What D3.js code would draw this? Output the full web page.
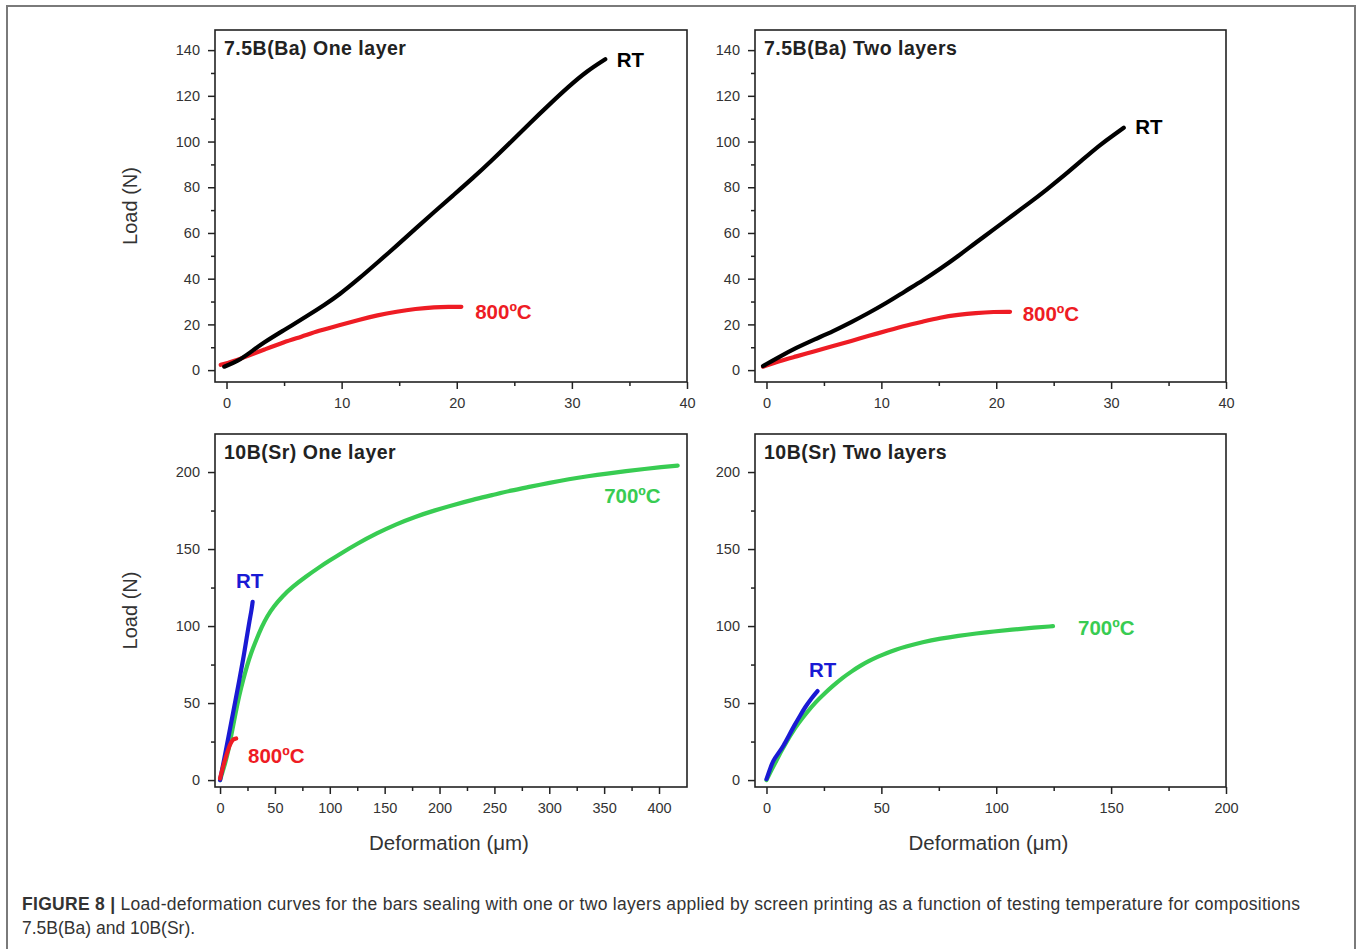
<!DOCTYPE html>
<html>
<head>
<meta charset="utf-8">
<script src="https://cdn.jsdelivr.net/npm/d3@7/dist/d3.min.js"></script>
<style>
  html, body { margin: 0; padding: 0; background: #fff; }
  svg { display: block; }
</style>
</head>
<body>
<svg id="chart" width="1357" height="949"></svg>
<script>
// ---------- DATA ----------
// Panel titles
const panelTitles = ["7.5B(Ba) One layer", "7.5B(Ba) Two layers", "10B(Sr) One layer", "10B(Sr) Two layers"];

// Top-left: 7.5B(Ba) one layer  [deformation µm, load N]
const baOneRT = [[-0.2,1.5],[1,4],[2,7.5],[3.2,12],[5,17.5],[7.1,24],[8.5,28.5],[9.8,33],[11.5,40],[13.1,47],[14.8,54.5],[16.4,61.8],[18,69],[19.7,76.5],[21.4,84],[23.1,92],[24.8,100.3],[26.4,108.3],[28,116],[29.7,124],[31.3,130.8],[32.9,136]];
const baOne800 = [[-0.5,2.3],[1,4.5],[2,6.5],[3.2,8.8],[5,12.3],[6.5,14.6],[8,17.2],[9.8,19.7],[11.5,22],[13.1,24],[14.8,25.6],[16.4,26.8],[18.1,27.6],[19.3,27.7],[20.4,27.7]];

// Top-right: 7.5B(Ba) two layers
const baTwoRT = [[-0.3,1.8],[1,5.5],[2.6,9.8],[4.2,13.5],[5.8,17],[7.4,21],[8.9,25],[10.5,29.5],[12,34.3],[13.6,39.2],[15.1,44.2],[16.7,49.9],[18.2,55.7],[19.8,61.6],[21.3,67.3],[22.9,73.2],[24.4,79],[26,85.5],[27.5,92],[29.1,98.8],[30.2,102.8],[31.1,106]];
const baTwo800 = [[-0.3,1.5],[1,3.8],[2.6,6],[4.2,8.3],[5.8,10.5],[7.4,12.8],[8.9,15],[10.5,17.2],[12,19.3],[13.6,21.2],[15.1,23],[16.7,24.2],[18.2,25],[19.8,25.5],[21.2,25.5]];

// Bottom-left: 10B(Sr) one layer
const srOne700 = [[0,0],[3.5,8],[7,17],[10.5,30],[14,43],[17.5,55],[21,65],[24.5,74],[28,82],[33,91],[38,99.5],[43,106.5],[49,112.8],[57,119.5],[66,125.5],[78,132],[91,138.5],[100,142.6],[108,146.2],[125,153.5],[143,160.3],[160,166],[178,171],[195,175],[213,178.7],[230,182],[248,185],[265,188],[283,190.5],[300,193],[318,195.4],[335,197.3],[353,199],[370,200.6],[387,202],[402,203.2],[417,204.2]];
const srOneRT = [[0,0],[3.5,12.6],[7,25.5],[10.5,38.7],[14,51.5],[17.5,64.7],[21,78],[24.4,93],[27,104],[28.6,110],[29.7,115.7]];
const srOne800 = [[0,1],[1.7,6],[3.5,10.5],[5.2,14.8],[7,18.8],[8.7,22.4],[10.5,25],[12.2,26.7],[14.7,27]];

// Bottom-right: 10B(Sr) two layers
const srTwo700 = [[0,0],[2,6],[4.3,12.6],[6.6,19.2],[9,25.6],[11.3,31.2],[13.7,36.5],[17.5,43.8],[21.4,50.6],[25.3,56.3],[29.2,61.5],[33,66.3],[37,70.5],[40.8,74.2],[44.7,77.4],[48.6,80.2],[52.5,82.6],[56.3,84.7],[60.2,86.5],[68,89.6],[75.8,91.9],[83.5,93.7],[91.3,95.2],[99,96.5],[106.8,97.7],[115,98.8],[124.7,99.9]];
const srTwoRT = [[0,0.6],[1.4,6.5],[2.8,12.6],[5,17],[7.5,22.4],[9.8,29],[12.1,35.4],[14.5,41.5],[16.8,47.3],[19.5,53],[22.2,57.8]];

// Tick values
const xTicksTop = [0, 10, 20, 30, 40];
const yTicksTop = [0, 20, 40, 60, 80, 100, 120, 140];
const xTicksBL = [0, 50, 100, 150, 200, 250, 300, 350, 400];
const xTicksBR = [0, 50, 100, 150, 200];
const yTicksBottom = [0, 50, 100, 150, 200];

const seriesNames = ["RT", "800ºC", "700ºC"];
const caption1Bold = "FIGURE 8 |";
const caption1 = " Load-deformation curves for the bars sealing with one or two layers applied by screen printing as a function of testing temperature for compositions";
const caption2 = "7.5B(Ba) and 10B(Sr).";
const yLabel = "Load (N)";
const xLabel = "Deformation (\u03bcm)";

// ---------- STYLE ----------
const COL = { black: "#000000", red: "#ee1c24", green: "#38cc52", blue: "#1a1ad4" };
const FONT = "'Liberation Sans', Arial, sans-serif";

const svg = d3.select("#chart");

// outer frame
svg.append("rect").attr("x", 7).attr("y", 6).attr("width", 1348).attr("height", 960)
  .attr("fill", "none").attr("stroke", "#7a7a7a").attr("stroke-width", 2);

const panels = [
  { box: [215, 30, 687, 382], xd: [-1, 40], yd: [-5.2, 148.8], xt: xTicksTop, xm: d3.range(5, 40, 10), yt: yTicksTop, ym: d3.range(10, 149, 20), title: panelTitles[0], ylab: true, xlab: false,
    series: [{ d: baOne800, c: COL.red }, { d: baOneRT, c: COL.black }],
    labels: [{ t: seriesNames[0], x: 33.9, y: 136, c: COL.black }, { t: seriesNames[1], x: 21.6, y: 25.8, c: COL.red }] },
  { box: [755, 30, 1226, 382], xd: [-1, 40], yd: [-5.2, 148.8], xt: xTicksTop, xm: d3.range(5, 40, 10), yt: yTicksTop, ym: d3.range(10, 149, 20), title: panelTitles[1], ylab: false, xlab: false,
    series: [{ d: baTwo800, c: COL.red }, { d: baTwoRT, c: COL.black }],
    labels: [{ t: seriesNames[0], x: 32.1, y: 106.7, c: COL.black }, { t: seriesNames[1], x: 22.3, y: 24.5, c: COL.red }] },
  { box: [215, 434, 687, 787], xd: [-4.6, 425.5], yd: [-4.5, 224.7], xt: xTicksBL, xm: d3.range(25, 425, 50), yt: yTicksBottom, ym: d3.range(25, 225, 50), title: panelTitles[2], ylab: true, xlab: true,
    series: [{ d: srOne700, c: COL.green }, { d: srOneRT, c: COL.blue }, { d: srOne800, c: COL.red }],
    labels: [{ t: seriesNames[0], x: 14.6, y: 129.2, c: COL.blue }, { t: seriesNames[2], x: 350, y: 185, c: COL.green }, { t: seriesNames[1], x: 25.5, y: 15.6, c: COL.red }] },
  { box: [755, 434, 1226, 787], xd: [-5, 200], yd: [-4.5, 224.7], xt: xTicksBR, xm: d3.range(25, 200, 50), yt: yTicksBottom, ym: d3.range(25, 225, 50), title: panelTitles[3], ylab: false, xlab: true,
    series: [{ d: srTwo700, c: COL.green }, { d: srTwoRT, c: COL.blue }],
    labels: [{ t: seriesNames[0], x: 18.5, y: 72, c: COL.blue }, { t: seriesNames[2], x: 135.6, y: 98.7, c: COL.green }] }
];

panels.forEach(p => {
  const [x0, y0, x1, y1] = p.box;
  const x = d3.scaleLinear().domain(p.xd).range([x0, x1]);
  const y = d3.scaleLinear().domain(p.yd).range([y1, y0]);
  const g = svg.append("g");

  // curves
  const line = d3.line().x(d => x(d[0])).y(d => y(d[1])).curve(d3.curveBasis);
  p.series.forEach(s => {
    g.append("path").datum(s.d).attr("d", line).attr("fill", "none")
      .attr("stroke", s.c).attr("stroke-width", 4.2).attr("stroke-linecap", "round").attr("stroke-linejoin", "round");
  });

  // axes
  const xAxis = d3.axisBottom(x).tickValues(p.xt).tickSize(7).tickPadding(9).tickFormat(d3.format("d"));
  const xMinor = d3.axisBottom(x).tickValues(p.xm).tickSize(4).tickFormat("");
  const yAxis = d3.axisLeft(y).tickValues(p.yt).tickSize(7).tickPadding(8).tickFormat(d3.format("d"));
  const yMinor = d3.axisLeft(y).tickValues(p.ym).tickSize(4).tickFormat("");

  [[xAxis, `translate(0,${y1})`], [xMinor, `translate(0,${y1})`], [yAxis, `translate(${x0},0)`], [yMinor, `translate(${x0},0)`]].forEach(([ax, tr]) => {
    const a = g.append("g").attr("transform", tr).call(ax);
    a.select(".domain").remove();
    a.selectAll("line").attr("stroke", "#222").attr("stroke-width", 1.5);
    a.selectAll("text").attr("fill", "#333").attr("font-family", FONT).attr("font-size", 14.5);
  });

  // frame
  g.append("rect").attr("x", x0).attr("y", y0).attr("width", x1 - x0).attr("height", y1 - y0)
    .attr("fill", "none").attr("stroke", "#222").attr("stroke-width", 1.6);

  // title
  g.append("text").attr("x", x0 + 9).attr("y", y0 + 25).text(p.title)
    .attr("font-family", FONT).attr("font-weight", "bold").attr("font-size", 19.5)
    .attr("letter-spacing", 0.5).attr("fill", "#222");

  // series labels
  p.labels.forEach(l => {
    g.append("text").attr("x", x(l.x)).attr("y", y(l.y)).attr("dy", "0.36em").text(l.t)
      .attr("font-family", FONT).attr("font-weight", "bold").attr("font-size", 20.5).attr("fill", l.c);
  });

  if (p.ylab) {
    g.append("text").attr("transform", `translate(${x0 - 85},${(y0 + y1) / 2}) rotate(-90)`)
      .attr("text-anchor", "middle").attr("dy", "0.36em").text(yLabel)
      .attr("font-family", FONT).attr("font-size", 20).attr("fill", "#333");
  }
  if (p.xlab) {
    g.append("text").attr("x", (x0 + x1) / 2 - 2).attr("y", y1 + 56).attr("dy", "0.36em")
      .attr("text-anchor", "middle").text(xLabel)
      .attr("font-family", FONT).attr("font-size", 20.5).attr("fill", "#333");
  }
});

// caption
const cap = svg.append("text").attr("x", 22).attr("y", 910).attr("font-family", FONT).attr("font-size", 17.5).attr("fill", "#333")
  .attr("textLength", 1278).attr("lengthAdjust", "spacing");
cap.append("tspan").attr("font-weight", "bold").text(caption1Bold);
cap.append("tspan").text(caption1);
svg.append("text").attr("x", 22).attr("y", 934).attr("font-family", FONT).attr("font-size", 17.5).attr("fill", "#333").text(caption2);
</script>
</body>
</html>
